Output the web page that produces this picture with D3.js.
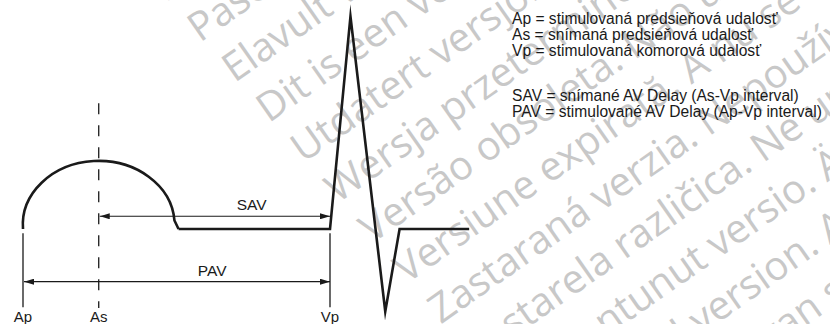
<!DOCTYPE html>
<html>
<head>
<meta charset="utf-8">
<script src="https://cdn.jsdelivr.net/npm/d3@7"></script>
<style>
  body { margin: 0; background: #fff; }
  svg { display: block; }
  text { font-family: "Liberation Sans", Arial, Helvetica, sans-serif; }
</style>
</head>
<body>
<svg id="chart" width="830" height="324"></svg>
<script>
// Timing events (ms from the atrial pace)
const eventLabels = ["Ap", "As", "Vp"];
const eventTimes = [0, 74, 300];

// P wave: start, apex, end of the arc, back on baseline
const pWaveTimes = [0, 74, 148, 152];
const pWaveAmps = [0, 0.75, 0.1, 0];

// Ventricular complex after the pace
const ecgTimes = [152, 300, 320, 354, 368, 436];
const ecgAmps = [0, 0, 2.5, -0.97, 0, 0];

// AV intervals
const intervalNames = ["SAV", "PAV"];
const intervalFrom = ["As", "Ap"];
const intervalTo = ["Vp", "Vp"];

const legendTop = [
  "Ap = stimulovaná predsieňová udalosť",
  "As = snímaná predsieňová udalosť",
  "Vp = stimulovaná komorová udalosť"
];
const legendBottom = [
  "SAV = snímané AV Delay (As-Vp interval)",
  "PAV = stimulované AV Delay (Ap-Vp interval)"
];

const watermarkLines = [
  "Novecojusi versija. Neizmantot.",
  "Pasenusi versija. Nenaudokite.",
  "Elavult verzió. Ne használja!",
  "Dit is een verouderde versie. Niet gebruiken.",
  "Utdatert versjon. Skal ikke brukes.",
  "Wersja przeterminowana. Nie używać.",
  "Versão obsoleta. Não utilize.",
  "Versiune expirată. A nu se utiliza.",
  "Zastaraná verzia. Nepoužívať.",
  "Zastarela različica. Ne uporabite.",
  "Vanhentunut versio. Älä käytä.",
  "Föråldrad version. Använd ej.",
  "Güncel olmayan sürüm. Kullanmayın."
];

// layout
const svg = d3.select("#chart");
const x = d3.scaleLinear().domain([0, 300]).range([23, 330]);
const y = d3.scaleLinear().domain([0, 1]).range([229, 144]);
const ink = "#1a1a1a";
const intervalLevel = { SAV: 0.15, PAV: -0.62 };
const intervalLabelFrac = { SAV: 0.66, PAV: 0.615 };
const timeOf = name => eventTimes[eventLabels.indexOf(name)];

// watermark
const wm = svg.append("g").attr("fill", "#c8c8c8")
  .style("font-size", "40px");
watermarkLines.forEach((t, i) => {
  const k = i - 1;
  wm.append("text")
    .attr("transform", `translate(${200 + 34.4 * k},${43 + 40.2 * k}) rotate(-35)`)
    .style("font-family", "'Open Sans', sans-serif")
    .text(t);
});

// arrowheads
const defs = svg.append("defs");
defs.append("marker").attr("id", "arrEnd")
  .attr("markerUnits", "userSpaceOnUse")
  .attr("viewBox", "0 0 10 6").attr("refX", 10).attr("refY", 3)
  .attr("markerWidth", 10).attr("markerHeight", 6).attr("orient", "auto")
  .append("path").attr("d", "M0,0L10,3L0,6Z").attr("fill", ink);
defs.append("marker").attr("id", "arrStart")
  .attr("markerUnits", "userSpaceOnUse")
  .attr("viewBox", "0 0 10 6").attr("refX", 0).attr("refY", 3)
  .attr("markerWidth", 10).attr("markerHeight", 6).attr("orient", "auto")
  .append("path").attr("d", "M10,0L0,3L10,6Z").attr("fill", ink);

// event markers
eventLabels.forEach((lab, i) => {
  const dashed = lab === "As";
  svg.append("line")
    .attr("x1", x(eventTimes[i])).attr("x2", x(eventTimes[i]))
    .attr("y1", dashed ? y(1.48) : y(-0.05))
    .attr("y2", dashed ? y(-0.93) : y(-0.92))
    .attr("stroke", ink).attr("stroke-width", 1.3)
    .attr("stroke-dasharray", dashed ? "11,11" : null);
  svg.append("text")
    .attr("x", x(eventTimes[i])).attr("y", 322)
    .attr("text-anchor", "middle")
    .style("font-size", "15px").attr("fill", ink)
    .text(lab);
});

// P wave as half ellipse
const rx = x(pWaveTimes[1]) - x(pWaveTimes[0]);
const ry = y(0) - y(pWaveAmps[1]);
const pPath = `M${x(pWaveTimes[0])},${y(pWaveAmps[0])}` +
  `A${rx},${ry} 0 0 1 ${x(pWaveTimes[2])},${y(pWaveAmps[2])}` +
  `L${x(pWaveTimes[3])},${y(pWaveAmps[3])}`;
svg.append("path").attr("d", pPath)
  .attr("fill", "none").attr("stroke", ink).attr("stroke-width", 2.6);

// ventricular complex
const line = d3.line().x(d => x(d[0])).y(d => y(d[1]));
svg.append("path").attr("d", line(d3.zip(ecgTimes, ecgAmps)))
  .attr("fill", "none").attr("stroke", ink).attr("stroke-width", 2.6)
  .attr("stroke-linejoin", "miter").attr("stroke-miterlimit", 20);

// interval arrows
intervalNames.forEach((name, i) => {
  const x0 = x(timeOf(intervalFrom[i])) + 1, x1 = x(timeOf(intervalTo[i]));
  const yy = y(intervalLevel[name]);
  svg.append("line")
    .attr("x1", x0).attr("x2", x1).attr("y1", yy).attr("y2", yy)
    .attr("stroke", ink).attr("stroke-width", 1.2)
    .attr("marker-start", "url(#arrStart)").attr("marker-end", "url(#arrEnd)");
  svg.append("text")
    .attr("x", x0 + (x1 - x0) * intervalLabelFrac[name]).attr("y", yy - 6)
    .attr("text-anchor", "middle")
    .style("font-size", "15.5px").attr("fill", ink)
    .text(name);
});

// legend
const lg = svg.append("g").attr("fill", ink).style("font-size", "15.6px");
legendTop.forEach((t, i) => {
  lg.append("text").attr("x", 512).attr("y", 24 + i * 15.8).text(t);
});
legendBottom.forEach((t, i) => {
  lg.append("text").attr("x", 512).attr("y", 101 + i * 15.8).text(t);
});
</script>
</body>
</html>
